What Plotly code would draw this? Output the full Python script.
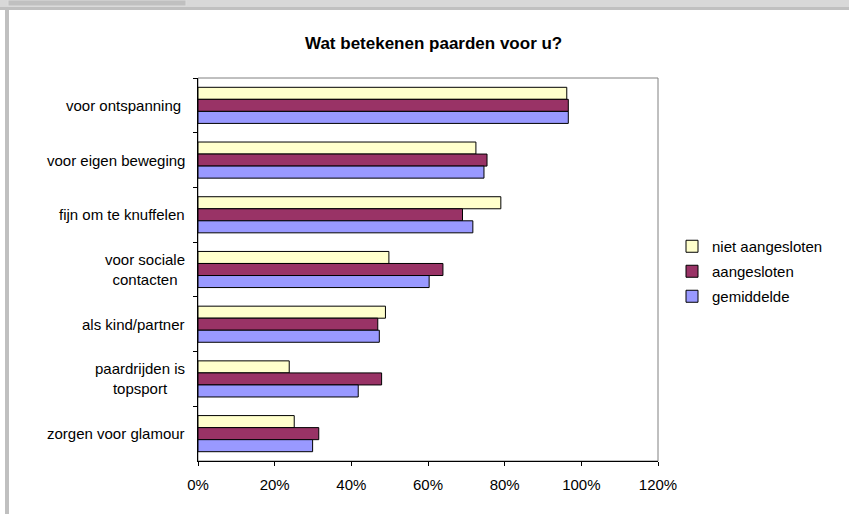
import plotly.graph_objects as go

categories = [
    "voor ontspanning ",
    "voor eigen beweging",
    "fijn om te knuffelen",
    "voor sociale<br>contacten",
    "als kind/partner",
    "paardrijden is<br>topsport",
    "zorgen voor glamour",
]
series_names = ["niet aangesloten", "aangesloten", "gemiddelde"]
niet_aangesloten = [96.2, 72.5, 79.0, 49.8, 48.9, 23.8, 25.1]
aangesloten = [96.6, 75.4, 69.0, 63.9, 46.9, 47.9, 31.5]
gemiddelde = [96.6, 74.6, 71.7, 60.3, 47.3, 41.8, 29.9]
colors = ["#FFFFCC", "#993366", "#9999FF"]
x_ticks = [0, 20, 40, 60, 80, 100, 120]
title = "Wat betekenen paarden voor u?"

W, H = 849, 514
L, R, T, B = 198, 658, 78, 461
FONT = "Liberation Sans, Arial, sans-serif"


def px(x):
    return (x - L) / (R - L)


def py(y):
    return (B - y) / (B - T)


fig = go.Figure()
for name, vals, col in zip(series_names, [niet_aangesloten, aangesloten, gemiddelde], colors):
    fig.add_trace(go.Bar(
        y=categories, x=vals, name=name, orientation="h", legendgroup=name,
        marker=dict(color=col, line=dict(color="black", width=1)),
    ))

shapes = [
    # plot area border (gray)
    dict(type="rect", xref="paper", yref="paper", x0=0, x1=1, y0=0, y1=1,
         line=dict(color="#808080", width=1), layer="below"),
    # window chrome: top strip
    dict(type="rect", xref="paper", yref="paper", x0=px(0), x1=px(W), y0=py(0), y1=py(7),
         fillcolor="#d8d8d8", line=dict(width=0), layer="below"),
    dict(type="rect", xref="paper", yref="paper", x0=px(8), x1=px(186), y0=py(0), y1=py(6),
         fillcolor="#c0c0c0", line=dict(color="#dcdcdc", width=1), layer="below"),
    dict(type="rect", xref="paper", yref="paper", x0=px(0), x1=px(W), y0=py(7), y1=py(10),
         fillcolor="#c0c0c0", line=dict(width=0), layer="below"),
    dict(type="rect", xref="paper", yref="paper", x0=px(5), x1=px(9), y0=py(10), y1=py(H),
         fillcolor="#c0c0c0", line=dict(width=0), layer="below"),
]

annotations = [
    dict(text="<b>" + title + "</b>", xref="paper", yref="paper", x=px(433), y=py(43),
         xanchor="center", yanchor="middle", showarrow=False,
         font=dict(family=FONT, size=17, color="black")),
]
for c in categories:
    annotations.append(dict(
        text=c, xref="paper", yref="y", x=px(187), y=c, xanchor="right", yanchor="middle",
        align="center", showarrow=False, font=dict(family=FONT, size=15, color="black"),
    ))

fig.update_layout(
    width=W, height=H,
    margin=dict(l=L, r=W - R, t=T, b=H - B, pad=0),
    paper_bgcolor="white", plot_bgcolor="white",
    font=dict(family=FONT, size=15, color="black"),
    barmode="group", bargap=0.34, bargroupgap=0,
    showlegend=True,
    legend=dict(x=px(672), y=py(230), xanchor="left", yanchor="top",
                traceorder="grouped", font=dict(family=FONT, size=15),
                bgcolor="rgba(0,0,0,0)", tracegroupgap=2.5),
    shapes=shapes,
    annotations=annotations,
    xaxis=dict(range=[0, 120], tickvals=x_ticks, ticktext=[f"{v}%" for v in x_ticks],
               ticks="outside", ticklen=4, tickcolor="black", showline=True,
               linecolor="black", linewidth=1, showgrid=False, zeroline=False,
               ticklabelstandoff=6, tickfont=dict(family=FONT, size=15)),
    yaxis=dict(type="category", categoryarray=categories, categoryorder="array",
               range=[6.5, -0.5], showticklabels=False, ticks="outside",
               tickson="boundaries", ticklen=4, tickcolor="black", showline=True,
               linecolor="black", linewidth=1, showgrid=False, zeroline=False),
)

fig.write_html(
    "out.html",
    config={"displayModeBar": False},
    post_script="document.body.style.margin='0';document.body.style.padding='0';"
                "document.body.style.overflow='hidden';",
)
